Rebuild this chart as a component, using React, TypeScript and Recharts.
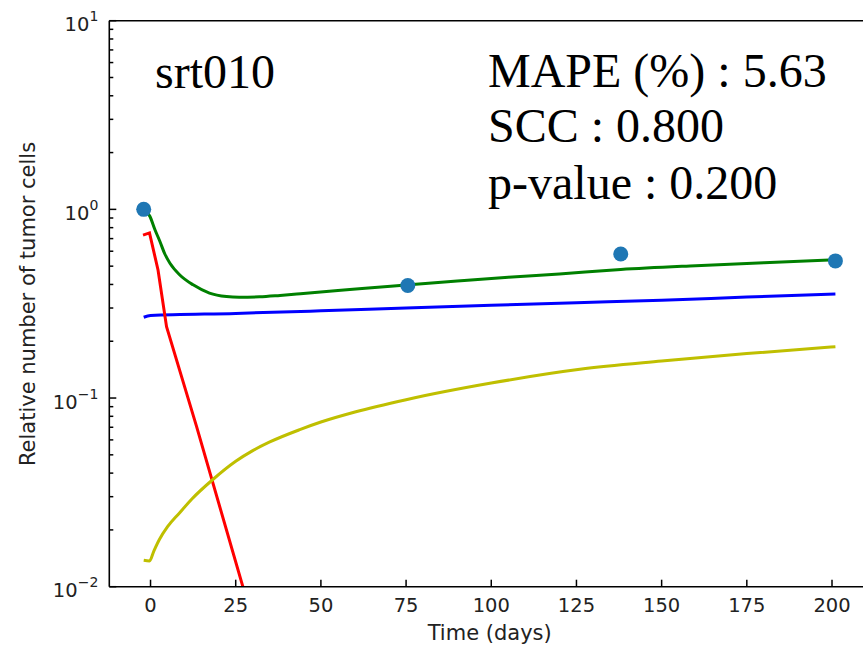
import React from "react";
import {
  ComposedChart,
  Line,
  Scatter,
  XAxis,
  YAxis,
  ReferenceLine
} from "recharts";

// measured points (blue dots)
const obsDays = [-2, 75.5, 138, 201];
const obsValues = [1.0, 0.395, 0.58, 0.533];

// total model (green)
const totalDays = [-2, -0.2, 1.3, 2.7, 4.2, 5.7, 8.6, 12.5, 17.3, 22.3, 26, 32, 38, 44, 55, 63, 75, 90, 105, 120, 138, 160, 180, 201];
const totalValues = [1.0, 0.92, 0.78, 0.68, 0.58, 0.518, 0.449, 0.398, 0.36, 0.345, 0.342, 0.344, 0.35, 0.357, 0.371, 0.382, 0.397, 0.417, 0.437, 0.455, 0.48, 0.503, 0.522, 0.54];

// resistant (blue)
const resDays = [-2, 0, 25, 50, 75, 100, 125, 150, 175, 201];
const resValues = [0.268, 0.274, 0.281, 0.29, 0.3, 0.31, 0.32, 0.33, 0.343, 0.356];

// sensitive (red)
const sensDays = [-2.2, -0.3, 2.2, 4.7, 13.5, 27.1, 30];
const sensValues = [0.73, 0.75, 0.477, 0.239, 0.0708, 0.01, 0.0067];

// damaged (yellow)
const dmgDays = [-2, -0.3, 1, 2.6, 5, 8.5, 12, 18.3, 25, 30, 35, 43.8, 50, 60, 75, 100, 126, 150, 175, 201];
const dmgValues = [0.0138, 0.0137, 0.0155, 0.0178, 0.0208, 0.0246, 0.029, 0.037, 0.0462, 0.0526, 0.0585, 0.068, 0.0746, 0.0843, 0.098, 0.12, 0.142, 0.157, 0.172, 0.187];

const xTicks = [0, 25, 50, 75, 100, 125, 150, 175, 200];
const yTicks = [0.01, 0.02, 0.03, 0.04, 0.05, 0.06, 0.07, 0.08, 0.09, 0.1, 0.2, 0.3, 0.4, 0.5, 0.6, 0.7, 0.8, 0.9, 1, 2, 3, 4, 5, 6, 7, 8, 9, 10];

const zip = (xs: number[], ys: number[]) => xs.map((x, i) => ({ x, y: ys[i] }));

const tickFont = "DejaVu Sans";

function XTick({ x, y, payload }: any) {
  return (
    <g>
      <line x1={x} x2={x} y1={y} y2={y - 7} stroke="#000" strokeWidth={1.5} />
      <text x={x} y={y + 25} textAnchor="middle" fontFamily={tickFont} fontSize={19.5} fill="#222">
        {payload.value}
      </text>
    </g>
  );
}

function YTick({ x, y, payload }: any) {
  const lg = Math.log10(payload.value);
  const exp = Math.round(lg);
  const major = Math.abs(lg - exp) < 1e-6;
  return (
    <g>
      <line x1={x} x2={x + (major ? 7 : 4)} y1={y} y2={y} stroke="#000" strokeWidth={1.5} />
      {major && (
        <text x={x - 11} y={y + 10.5} textAnchor="end" fontFamily={tickFont} fontSize={19.5} fill="#222">
          10
          <tspan dy={-10} fontSize={14}>
            {exp < 0 ? "\u2212" + -exp : exp}
          </tspan>
        </text>
      )}
    </g>
  );
}

export default function App() {
  return (
    <div
      style={{
        position: "absolute",
        left: 0,
        top: 0,
        width: 863,
        height: 648,
        overflow: "hidden",
        background: "#fff"
      }}
    >
      <ComposedChart width={870} height={648} margin={{ top: 20.7, right: 0, bottom: 0, left: 0 }}>
        <XAxis
          type="number"
          dataKey="x"
          domain={[-12.1, 211.15]}
          allowDataOverflow
          ticks={xTicks}
          interval={0}
          height={61.3}
          tickSize={0}
          tickMargin={0}
          tick={<XTick />}
          axisLine={{ stroke: "#000", strokeWidth: 1.6 }}
        />
        <YAxis
          type="number"
          dataKey="y"
          scale="log"
          domain={[0.01, 10]}
          allowDataOverflow
          ticks={yTicks}
          interval={0}
          width={109.3}
          tickSize={0}
          tickMargin={0}
          tick={<YTick />}
          axisLine={{ stroke: "#000", strokeWidth: 1.6 }}
        />
        <ReferenceLine y={10} stroke="#000" strokeWidth={1.6} />
        <Line type="monotone" data={zip(resDays, resValues)} dataKey="y" stroke="#0000ff" strokeWidth={3} dot={false} isAnimationActive={false} />
        <Line data={zip(sensDays, sensValues)} dataKey="y" stroke="#ff0000" strokeWidth={3} dot={false} isAnimationActive={false} />
        <Line type="monotone" data={zip(dmgDays, dmgValues)} dataKey="y" stroke="#bfbf00" strokeWidth={3} dot={false} isAnimationActive={false} />
        <Line type="monotone" data={zip(totalDays, totalValues)} dataKey="y" stroke="#008000" strokeWidth={3} dot={false} isAnimationActive={false} />
        <Scatter
          data={zip(obsDays, obsValues)}
          fill="#1f77b4"
          isAnimationActive={false}
          shape={(p: any) => <circle cx={p.cx} cy={p.cy} r={7.5} fill="#1f77b4" />}
        />
      </ComposedChart>
      <svg
        width={863}
        height={648}
        style={{ position: "absolute", left: 0, top: 0, pointerEvents: "none" }}
      >
        <g fontFamily="Liberation Serif" fontSize={48} fill="#000">
          <text x={155} y={88.3}>srt010</text>
          <text x={488} y={86.7}>MAPE (%) : 5.63</text>
          <text x={488} y={141.7}>SCC : 0.800</text>
          <text x={488} y={199}>p-value : 0.200</text>
        </g>
        <text x={489.7} y={640.3} textAnchor="middle" fontFamily={tickFont} fontSize={21} fill="#222">
          Time (days)
        </text>
        <text
          x={35}
          y={304}
          textAnchor="middle"
          transform="rotate(-90, 35, 304)"
          fontFamily={tickFont}
          fontSize={21}
          fill="#222"
        >
          Relative number of tumor cells
        </text>
      </svg>
    </div>
  );
}
